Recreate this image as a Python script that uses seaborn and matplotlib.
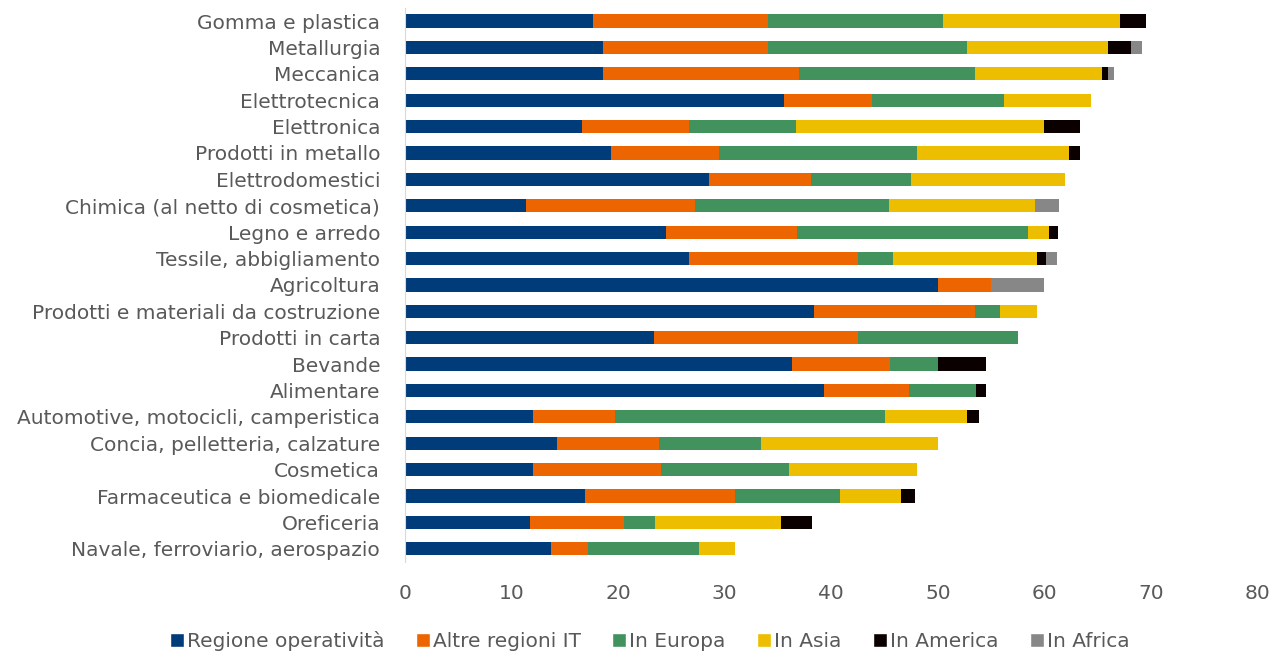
import seaborn as sns
import matplotlib.pyplot as plt
import numpy as np
import pandas as pd
from matplotlib.patches import Patch

# categories top -> bottom
settori = ["Gomma e plastica", "Metallurgia", "Meccanica", "Elettrotecnica", "Elettronica",
           "Prodotti in metallo", "Elettrodomestici", "Chimica (al netto di cosmetica)",
           "Legno e arredo", "Tessile, abbigliamento", "Agricoltura",
           "Prodotti e materiali da costruzione", "Prodotti in carta", "Bevande", "Alimentare",
           "Automotive, motocicli, camperistica", "Concia, pelletteria, calzature", "Cosmetica",
           "Farmaceutica e biomedicale", "Oreficeria", "Navale, ferroviario, aerospazio"]

regione = [17.6, 18.6, 18.6, 35.6, 16.6, 19.3, 28.5, 11.3, 24.5, 26.6, 50.0,
           38.4, 23.4, 36.3, 39.3, 12.0, 14.3, 12.0, 16.9, 11.7, 13.7]
altre_it = [16.5, 15.5, 18.4, 8.2, 10.0, 10.2, 9.6, 15.9, 12.3, 15.9, 5.0,
            15.1, 19.1, 9.2, 8.0, 7.7, 9.5, 12.0, 14.1, 8.8, 3.5]
europa = [16.4, 18.6, 16.5, 12.4, 10.1, 18.5, 9.4, 18.2, 21.7, 3.3, 0.0,
          2.3, 15.0, 4.5, 6.3, 25.3, 9.6, 12.0, 9.8, 3.0, 10.4]
asia = [16.6, 13.3, 11.9, 8.2, 23.3, 14.3, 14.4, 13.7, 1.9, 13.5, 0.0,
        3.5, 0.0, 0.0, 0.0, 7.7, 16.6, 12.0, 5.7, 11.8, 3.4]
america = [2.4, 2.1, 0.6, 0.0, 3.3, 1.0, 0.0, 0.0, 0.9, 0.9, 0.0,
           0.0, 0.0, 4.5, 0.9, 1.2, 0.0, 0.0, 1.4, 2.9, 0.0]
africa = [0.0, 1.1, 0.5, 0.0, 0.0, 0.0, 0.0, 2.3, 0.0, 1.0, 5.0,
          0.0, 0.0, 0.0, 0.0, 0.0, 0.0, 0.0, 0.0, 0.0, 0.0]

serie = ["Regione operatività", "Altre regioni IT", "In Europa", "In Asia", "In America", "In Africa"]
colori = ["#003B7A", "#EC6500", "#42925E", "#EDBD00", "#0A0000", "#878787"]

df = pd.DataFrame({"settore": settori, serie[0]: regione, serie[1]: altre_it,
                   serie[2]: europa, serie[3]: asia, serie[4]: america, serie[5]: africa})
cum = df[serie].cumsum(axis=1)
cum["settore"] = settori

sns.set_style("white")
plt.rcParams["font.family"] = ["DejaVu Sans"]
grigio = "#595959"
fs = 14.5

fig = plt.figure(figsize=(12.74, 6.52), dpi=100)
ax = fig.add_axes([0.318, 0.138, 0.669, 0.85])

# stacked bars: draw cumulative totals from the outermost segment inward
for i in range(len(serie) - 1, -1, -1):
    sns.barplot(data=cum, x=serie[i], y="settore", color=colori[i], width=0.5,
                saturation=1, orient="h", ax=ax, linewidth=0)

ax.set_xlim(0, 80)
ax.set_ylim(len(settori) - 0.5, -0.5)
ax.set_xticks(np.arange(0, 81, 10))
ax.set_xlabel("")
ax.set_ylabel("")
ax.tick_params(axis="x", length=0, labelsize=fs, labelcolor=grigio, pad=16)
ax.tick_params(axis="y", length=0, labelsize=fs, labelcolor=grigio, pad=18)
for s in ["top", "right", "bottom"]:
    ax.spines[s].set_visible(False)
ax.spines["left"].set_color("#D9D9D9")

handles = [Patch(facecolor=c, label=l) for c, l in zip(colori, serie)]
fig.legend(handles=handles, loc="lower center", bbox_to_anchor=(0.51, -0.026), ncol=6,
           frameon=False, fontsize=fs, labelcolor=grigio, handlelength=0.7,
           handleheight=0.7, handletextpad=0.15, columnspacing=1.55)

fig.savefig("out.png", dpi=100)
